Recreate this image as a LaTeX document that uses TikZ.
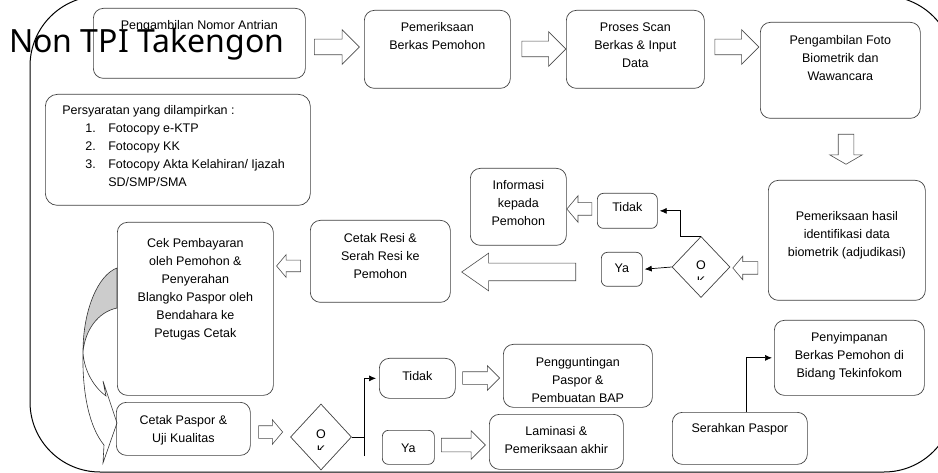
\documentclass[tikz,border=0pt]{standalone}
\usepackage{fontspec}
\setmainfont{Liberation Sans}
\newfontfamily\titlefont{Noto Sans}
\usetikzlibrary{arrows.meta}
\usetikzlibrary{shapes.geometric,shapes.arrows}

\begin{document}
\begin{tikzpicture}[x=1pt,y=-1pt,
			main node/.style n args={3}{draw=black!75,line width=0.7pt,rounded corners=10pt,
				anchor=north west,inner sep=0pt,font=\fontsize{12.5}{18}\selectfont,
				execute at begin node={\begin{minipage}[t][#2pt][t]{#1pt}\centering\vspace*{#3pt}},
				execute at end node={\end{minipage}}},
			list node/.style n args={3}{draw=black!75,line width=0.7pt,rounded corners=12pt,
				anchor=north west,inner sep=0pt,font=\fontsize{12.5}{18}\selectfont,
				execute at begin node={\begin{minipage}[t][#2pt][t]{#1pt}\raggedright\leftskip=17pt\vspace*{#3pt}},
				execute at end node={\end{minipage}}},
			decision/.style={diamond,draw=black!75,line width=0.7pt,inner sep=0pt},
			block arrow/.style n args={4}{single arrow,draw=black!70,fill=white,line width=0.6pt,
				minimum height=#1pt,inner xsep=0pt,inner ysep=#2pt,
				single arrow head extend=#3pt,single arrow tip angle=#4},
			conn/.style={-{Latex[length=7pt,width=6pt]},line width=0.7pt}]
			
			\useasboundingbox (0,0) rectangle (938,473);
			\draw[line width=1pt,rounded corners=70pt] (30,-4) rectangle (954,472);
			
			% top row
			\node[main node={212}{70}{12.4}] (antri) at (93,8) {Pengambilan Nomor Antrian};
			\node[main node={146}{78}{12.4}] (periksa) at (364,10) {Pemeriksaan\\Berkas Pemohon};
			\node[main node={138}{78}{12.4}] (scan) at (566,10) {Proses Scan\\Berkas \& Input\\Data};
			\node[main node={160}{96}{13.4}] (foto) at (760,22) {Pengambilan Foto\\Biometrik dan\\Wawancara};
			\node[list node={265}{111}{11.4}] (syarat) at (45,94) {Persyaratan yang dilampirkan :\\
				\hspace*{23pt}\makebox[23pt][l]{1.}Fotocopy e-KTP\\
				\hspace*{23pt}\makebox[23pt][l]{2.}Fotocopy KK\\
				\hspace*{23pt}\makebox[23pt][l]{3.}Fotocopy Akta Kelahiran/ Ijazah\\
				\hspace*{46pt}SD/SMP/SMA};
			
			% middle row
			\node[main node={157}{120}{31.4}] (adjudikasi) at (768,180) {Pemeriksaan hasil\\identifikasi data\\biometrik (adjudikasi)};
			\node[decision,minimum width=58pt,minimum height=61pt] (ok1) at (701,267) {};
			\node[main node={41}{34}{11.4},rounded corners=6pt] (ya1) at (601,252) {Ya};
			\node[main node={60}{35}{9.4},rounded corners=6pt] (tidak1) at (597,193) {Tidak};
			\node[main node={96}{77}{12.4}] (info) at (470,168) {Informasi\\kepada\\Pemohon};
			\node[main node={140}{82}{13.4}] (resi) at (310,220) {Cetak Resi \&\\Serah Resi ke\\Pemohon};
			\node[main node={156}{173}{16.4}] (bayar) at (117,222) {Cek Pembayaran\\oleh Pemohon \&\\Penyerahan\\Blangko Paspor oleh\\Bendahara ke\\Petugas Cetak};
			
			% bottom row
			\node[main node={134}{53}{13.4}] (cetak) at (116,402) {Cetak Paspor \&\\Uji Kualitas};
			\node[decision,minimum width=61pt,minimum height=66pt] (ok2) at (321,437) {};
			\node[main node={76}{40}{13}] (tidak2) at (379,358) {Tidak};
			\node[main node={52}{34}{13.4},rounded corners=6pt] (ya2) at (382,430) {Ya};
			\node[main node={149}{63}{13.4}] (gunting) at (503,344) {Pengguntingan\\Paspor \&\\Pembuatan BAP};
			\node[main node={134}{55}{12.4}] (laminasi) at (489,414) {Laminasi \&\\Pemeriksaan akhir};
			\node[main node={150}{75}{12.4}] (simpan) at (774,320) {Penyimpanan\\Berkas Pemohon di\\Bidang Tekinfokom};
			\node[main node={135}{52}{11.4}] (serah) at (672,412) {Serahkan Paspor};
			
			% text in the diamonds
			\node[inner sep=0pt,font=\fontsize{12.5}{18}\selectfont] (o1) at (701,265) {O};
			\node[inner sep=0pt,font=\fontsize{12.5}{18}\selectfont] (o2) at (321,434) {O};
			\begin{scope}
				\clip (690,276) rectangle (712,279.5);
				\node[inner sep=0pt,font=\fontsize{12.5}{18}\selectfont] (k1) at (701,281.5) {K};
			\end{scope}
			\begin{scope}
				\clip (310,445) rectangle (332,449);
				\node[inner sep=0pt,font=\fontsize{12.5}{18}\selectfont] (k2) at (321,450.5) {K};
			\end{scope}
			
			% block arrows
			\node[block arrow={45}{7.5}{9.5}{90}] (a1) at (333,47) {};
			\node[block arrow={44}{7.5}{9.5}{90}] (a2) at (540,49) {};
			\node[block arrow={44}{7.5}{9.5}{90}] (a3) at (733,47) {};
			\node[block arrow={30}{7.5}{8.5}{120},rotate=270] (a4) at (846,147) {};
			\node[block arrow={25}{6}{5.5}{100},rotate=180] (a5) at (748,268) {};
			\node[block arrow={114}{8.5}{10}{70},rotate=180] (a6) at (525,272) {};
			\node[block arrow={25}{6}{7}{100},rotate=180] (a7) at (582,209) {};
			\node[block arrow={24}{5.5}{5.5}{100},rotate=180] (a8) at (291,266) {};
			\node[block arrow={24}{6}{6}{100}] (a9) at (268,432) {};
			\node[block arrow={37}{6}{6}{90}] (a10) at (478,378) {};
			\node[block arrow={44}{6.5}{7.5}{90}] (a11) at (460,445) {};
			
			% curved arrow from payment check to printing
			\filldraw[fill=black!20,draw=black!80,line width=0.6pt] (117,268)
				.. controls (98,275) and (83,310) .. (83,352)
				.. controls (85,330) and (98,312) .. (117,308) -- cycle;
			\draw[black!80,line width=0.6pt] (83,352) .. controls (84,372) and (95,388) .. (106,396)
				-- (103,381) -- (117,423) -- (103,463) -- (104,445)
				.. controls (90,428) and (82,395) .. (83,352);
			
			% connectors
			\draw[conn,shorten >=2pt] (ok1.west) -- (ya1.east);
			\draw[conn,shorten >=2pt] (ok1.north) -- ++(-21,0) |- (tidak1.east);
			\coordinate (split) at (364,456);
			\draw[line width=0.7pt] (ok2.east) -- (ok2.east -| split);
			\draw[conn,shorten >=3pt] (split) |- (tidak2.west);
			\draw[conn,shorten >=2pt] ([xshift=6pt]serah.north) |- (simpan.west);
			
			\node[anchor=base west,inner sep=0pt,font=\titlefont\fontsize{32}{38}\selectfont] (title) at (9,53) {Non TPI Takengon};
		\end{tikzpicture}
\end{document}
